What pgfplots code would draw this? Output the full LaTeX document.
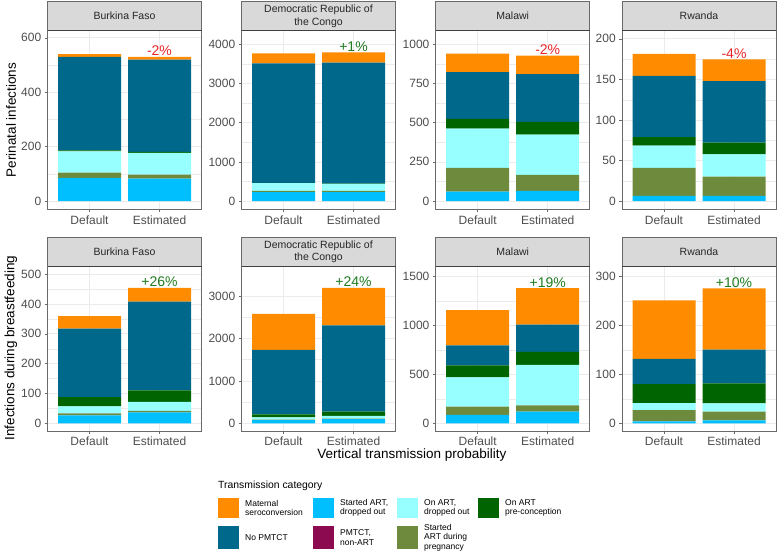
\documentclass[border=0pt]{standalone}
\usepackage{pgfplots}
\usepackage{pgfplotstable}
\pgfplotsset{compat=1.18}
\usepackage{fontspec}
\setmainfont{Liberation Sans}
\definecolor{cMAT}{HTML}{FF8C00}
\definecolor{cNOP}{HTML}{00688B}
\definecolor{cSDO}{HTML}{00BFFF}
\definecolor{cPNA}{HTML}{8B0A50}
\definecolor{cODO}{HTML}{97FFFF}
\definecolor{cSDP}{HTML}{6E8B3D}
\definecolor{cOPC}{HTML}{006400}
\definecolor{grid92}{HTML}{EBEBEB}
\definecolor{g20}{HTML}{6A6A6A}
\definecolor{g30}{HTML}{4D4D4D}
\definecolor{stripc}{HTML}{D9D9D9}
\definecolor{negred}{HTML}{E8262A}
\definecolor{posgreen}{HTML}{1E7B1E}

% columns: started ART dropped out, started ART during pregnancy, on ART dropped out,
% on ART pre-conception, PMTCT non-ART, no PMTCT, maternal seroconversion
\pgfplotstableread{
x sdo sdp odo opc pna nop mat
1 85 20 78 3 0 344 10
2 83 14 80 4 0 339 10
}\tA
\pgfplotstableread{
x sdo sdp odo opc pna nop mat
1 230 35 195 5 0 3050 255
2 230 30 180 5 0 3090 260
}\tB
\pgfplotstableread{
x sdo sdp odo opc pna nop mat
1 61 151 250 61 0 299 117
2 66 101 257 80 0 305 117
}\tC
\pgfplotstableread{
x sdo sdp odo opc pna nop mat
1 6.6 34.4 27.4 10.6 0 75.5 27.1
2 6.6 23.7 27.5 14.3 0 75.9 26.6
}\tD
\pgfplotstableread{
x sdo sdp odo opc pna nop mat
1 27 6 24 31 0 229 42
2 37 5 30 38 0 298 46
}\tE
\pgfplotstableread{
x sdo sdp odo opc pna nop mat
1 75 10 55 70 0 1518 849
2 100 10 65 100 0 2035 880
}\tF
\pgfplotstableread{
x sdo sdp odo opc pna nop mat
1 85 85 300 123 0 205 361
2 119 65 413 133 0 279 375
}\tG
\pgfplotstableread{
x sdo sdp odo opc pna nop mat
1 4 23 14.4 38.6 0 51.7 119.3
2 6 18 16.7 40.8 0 69.2 124.9
}\tH

\tikzset{pct/.style={anchor=base, inner sep=0pt, yshift=1pt, font=\fontsize{14}{14}\selectfont}}
\pgfplotsset{
  panel/.style={
    scale only axis, width=154pt, clip=false,
    xmin=0.4, xmax=2.6, xtick={1,2}, xticklabels={Default,Estimated},
    ybar stacked, bar width=0.9,
    axis line style={g20, line width=0.5pt},
    tick align=outside, major tick length=2.75pt, minor tick length=0pt,
    tick style={g20, line width=0.5pt},
    tick pos=left,
    xmajorgrids, ymajorgrids, yminorgrids, minor y tick num=1,
    major grid style={grid92, line width=0.7pt},
    minor grid style={grid92, line width=0.35pt},
    tick label style={font=\fontsize{12}{12}\selectfont, text=g30},
    /pgf/number format/assume math mode=true,
    /pgf/number format/1000 sep={},
    scaled y ticks=false,
    anchor=south west,
  },
  toprow/.style={height=178.6pt},
  botrow/.style={height=164.8pt},
}
\newcommand\bars[1]{%
  \addplot[fill=cSDO, draw=none] table[x=x, y=sdo]{#1};
  \addplot[fill=cSDP, draw=none] table[x=x, y=sdp]{#1};
  \addplot[fill=cODO, draw=none] table[x=x, y=odo]{#1};
  \addplot[fill=cOPC, draw=none] table[x=x, y=opc]{#1};
  \addplot[fill=cPNA, draw=none] table[x=x, y=pna]{#1};
  \addplot[fill=cNOP, draw=none] table[x=x, y=nop]{#1};
  \addplot[fill=cMAT, draw=none] table[x=x, y=mat]{#1};
}
\newcommand\strip[3]{% x, ybottom, text
  \draw[fill=stripc, draw=g20, line width=0.5pt] (#1pt,#2pt) rectangle ++(154pt,29pt);
  \draw[black!75, line width=0.6pt] (#1pt,#2pt) -- ++(154pt,0pt);
  \node[align=center, font=\fontsize{10.5}{12.3}\selectfont, text=black!85] at ([xshift=77pt,yshift=14.5pt]#1pt,#2pt) {#3};
}

\begin{document}
\begin{tikzpicture}
\path[use as bounding box] (0,0) rectangle (781pt,554pt);

% ---- top row: perinatal ----
\begin{axis}[panel, toprow, at={(47.5pt,344.7pt)}, ymin=-30, ymax=626, ytick={0,200,400,600}]
\bars{\tA}
\node[pct, text=negred] at (axis cs:2,530) {-2\%};
\end{axis}
\begin{axis}[panel, toprow, at={(241.5pt,344.7pt)}, ymin=-207, ymax=4347, ytick={0,1000,2000,3000,4000}]
\bars{\tB}
\node[pct, text=posgreen] at (axis cs:2,3795) {+1\%};
\end{axis}
\begin{axis}[panel, toprow, at={(435.7pt,344.7pt)}, ymin=-52, ymax=1085, ytick={0,250,500,750,1000}]
\bars{\tC}
\node[pct, text=negred] at (axis cs:2,926) {-2\%};
\end{axis}
\begin{axis}[panel, toprow, at={(622pt,344.7pt)}, ymin=-10, ymax=210, ytick={0,50,100,150,200}]
\bars{\tD}
\node[pct, text=negred] at (axis cs:2,174.6) {-4\%};
\end{axis}

% ---- bottom row: breastfeeding ----
\begin{axis}[panel, botrow, at={(47.5pt,123.2pt)}, ymin=-25, ymax=527, ytick={0,100,200,300,400,500}]
\bars{\tE}
\node[pct, text=posgreen] at (axis cs:2,454) {+26\%};
\end{axis}
\begin{axis}[panel, botrow, at={(241.5pt,123.2pt)}, ymin=-176, ymax=3707, ytick={0,1000,2000,3000}]
\bars{\tF}
\node[pct, text=posgreen] at (axis cs:2,3190) {+24\%};
\end{axis}
\begin{axis}[panel, botrow, at={(435.7pt,123.2pt)}, ymin=-77, ymax=1610, ytick={0,500,1000,1500}]
\bars{\tG}
\node[pct, text=posgreen] at (axis cs:2,1384) {+19\%};
\end{axis}
\begin{axis}[panel, botrow, at={(622pt,123.2pt)}, ymin=-15, ymax=321, ytick={0,100,200,300}]
\bars{\tH}
\node[pct, text=posgreen] at (axis cs:2,275.6) {+10\%};
\end{axis}

% strips
\strip{47.5}{523.3}{Burkina Faso}
\strip{241.5}{523.3}{Democratic Republic of\\the Congo}
\strip{435.7}{523.3}{Malawi}
\strip{622}{523.3}{Rwanda}
\strip{47.5}{288}{Burkina Faso}
\strip{241.5}{288}{Democratic Republic of\\the Congo}
\strip{435.7}{288}{Malawi}
\strip{622}{288}{Rwanda}

% axis titles
\node[rotate=90, font=\fontsize{13.5}{13.5}\selectfont] at (11pt,434pt) {Perinatal infections};
\node[rotate=90, font=\fontsize{13.5}{13.5}\selectfont] at (11pt,206pt) {Infections during breastfeeding};
\node[font=\fontsize{13.5}{13.5}\selectfont] at (411.8pt,98.5pt) {Vertical transmission probability};

% legend
\node[anchor=west, inner sep=0pt, font=\fontsize{10.4}{10.4}\selectfont] at (218pt,68pt) {Transmission category};
\begin{scope}[every node/.style={anchor=west, inner sep=0pt, align=left, font=\fontsize{8.5}{9.5}\selectfont}]
\fill[cMAT] (218pt,35.7pt) rectangle ++(20.7pt,20.6pt);
\node at (245pt,46pt) {Maternal\\seroconversion};
\fill[cSDO] (313.3pt,35.7pt) rectangle ++(20.7pt,20.6pt);
\node at (340pt,46pt) {Started ART,\\dropped out};
\fill[cODO] (397.3pt,35.7pt) rectangle ++(20.7pt,20.6pt);
\node at (424pt,46pt) {On ART,\\dropped out};
\fill[cOPC] (478.3pt,35.7pt) rectangle ++(20.7pt,20.6pt);
\node at (505pt,46pt) {On ART\\pre-conception};
\fill[cNOP] (218pt,4.7pt) rectangle ++(20.7pt,23.6pt);
\node at (245pt,16.5pt) {No PMTCT};
\fill[cPNA] (313.3pt,4.7pt) rectangle ++(20.7pt,23.6pt);
\node at (340pt,16.5pt) {PMTCT,\\non-ART};
\fill[cSDP] (397.3pt,4.7pt) rectangle ++(20.7pt,23.6pt);
\node at (424pt,16.5pt) {Started\\ART during\\pregnancy};
\end{scope}
\end{tikzpicture}
\end{document}
